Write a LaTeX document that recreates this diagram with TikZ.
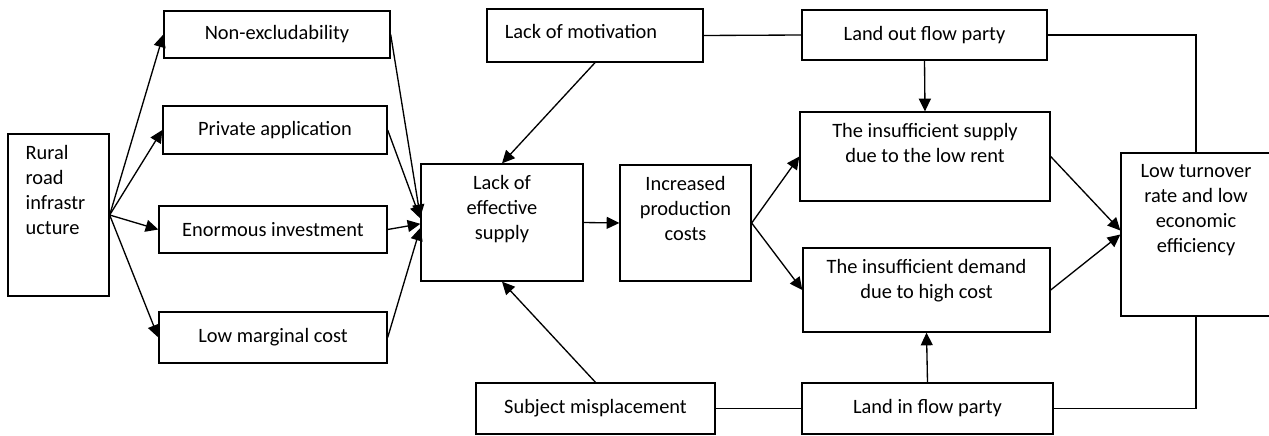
\documentclass[tikz,border=0pt]{standalone}
\usepackage{fontspec}
\setmainfont{Carlito}
\usetikzlibrary{arrows.meta,calc}
\newlength\px
\setlength\px{0.75pt}

\begin{document}
\begin{tikzpicture}[x=\px, y=-\px,
    font=\fontsize{15.3}{18.7}\selectfont,
    boxnode/.style 2 args={draw, line width=1pt, inner sep=0pt, minimum width=#1\px, minimum height=#2\px},
    toptext/.style={anchor=north, align=center, inner sep=0pt, yshift=-9pt},
    arr/.style={-{Triangle[length=9.5pt,width=9pt]}, line width=1pt},
    link/.style={line width=1pt}]
    \clip (0,0) rectangle (1269,435);

    % Source and its four properties
    \node[boxnode={101}{162}, label={[toptext, anchor=north west, align=left, xshift=13.5pt]north west:{Rural\\road\\infrastr\\ucture}}] (rural) at (58.5,215) {};
    \node[boxnode={226}{47}] (nonex) at (277,34.5) {Non-excludability};
    \node[boxnode={224}{48}] (priv) at (275,130) {Private application};
    \node[boxnode={228}{47}] (enorm) at (273,229.5) {Enormous investment};
    \node[boxnode={228}{51}] (lowmarg) at (273,337.5) {Low marginal cost};

    % Middle column
    \node[boxnode={216}{53}, label={[inner sep=0pt, xshift=-10.5pt, yshift=3pt]center:Lack of motivation}] (motiv) at (595,35.5) {};
    \node[boxnode={162}{117}, label={[toptext]north:{Lack of\\effective\\supply}}] (supply) at (502,222.5) {};
    \node[boxnode={131}{116}, label={[toptext]north:{Increased\\production\\costs}}] (costs) at (685.5,223) {};
    \node[boxnode={239}{51}] (misplace) at (595.5,408.5) {Subject misplacement};

    % Land market side
    \node[boxnode={245}{50}] (outflow) at (924.5,35) {Land out flow party};
    \node[boxnode={250}{89}, label={[toptext]north:{The insufficient supply\\due to the low rent}}] (insupply) at (925,156.5) {};
    \node[boxnode={247}{84}, label={[toptext]north:{The insufficient demand\\due to high cost}}] (indemand) at (926.5,290) {};
    \node[boxnode={251}{51}] (inflow) at (927.5,408.5) {Land in flow party};
    \node[boxnode={150}{163}, label={[toptext]north:{Low turnover\\rate and low\\economic\\efficiency}}] (lowturn) at (1196,234.5) {};

    % Connectors
    \foreach \n in {nonex,priv,enorm,lowmarg}
        \draw[arr] (rural.east) -- (\n.west);
    \foreach \n/\s in {nonex/4,priv/3,enorm/-1,lowmarg/-4}
        \draw[arr] (\n.east) -- ([yshift=\s pt]supply.west);
    \draw[arr] (motiv.south) -- (supply.north);
    \draw[arr] (misplace.north) -- (supply.south);
    \draw[arr] (supply.east) -- (costs.west);
    \draw[arr] (costs.east) -- (insupply.west);
    \draw[arr] (costs.east) -- (indemand.west);
    \draw[arr] (outflow.south) -- (insupply.north);
    \draw[arr] (inflow.north) -- (indemand.south);
    \draw[arr] (insupply.east) -- ([yshift=3pt]lowturn.west);
    \draw[arr] (indemand.east) -- ([yshift=0pt]lowturn.west);
    \draw[link] (motiv.east) -- (outflow.west);
    \draw[link] (misplace.east) -- (inflow.west);
    \draw[link] (outflow.east) -| (lowturn.north);
    \draw[link] (inflow.east) -| (lowturn.south);
\end{tikzpicture}
\end{document}
